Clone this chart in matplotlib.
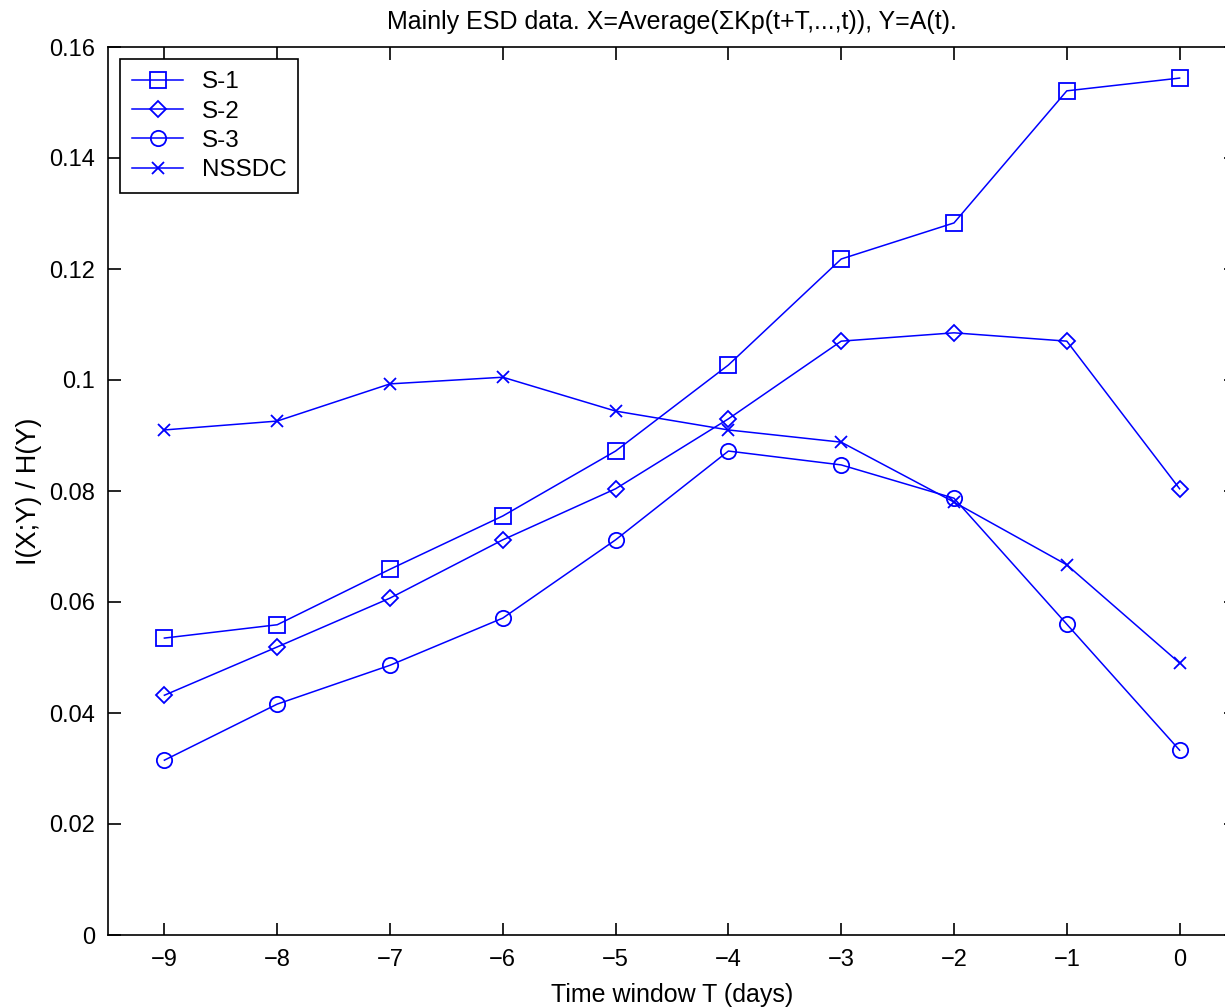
import numpy as np
import matplotlib
matplotlib.use('Agg')
import matplotlib.pyplot as plt

plt.rcParams['font.family'] = ['Liberation Sans', 'DejaVu Sans']

# data
T = [-9, -8, -7, -6, -5, -4, -3, -2, -1, 0]
s1 = [0.0535, 0.0559, 0.0659, 0.0755, 0.0872, 0.1027, 0.1218, 0.1283, 0.1521, 0.1544]
s2 = [0.0432, 0.0519, 0.0607, 0.0712, 0.0804, 0.0930, 0.1070, 0.1085, 0.1070, 0.0804]
s3 = [0.0315, 0.0416, 0.0486, 0.0571, 0.0712, 0.0872, 0.0847, 0.0787, 0.0560, 0.0333]
nssdc = [0.0910, 0.0926, 0.0993, 0.1005, 0.0944, 0.0910, 0.0888, 0.0780, 0.0667, 0.0490]
yticks = [0, 0.02, 0.04, 0.06, 0.08, 0.1, 0.12, 0.14, 0.16]
ylabels = ['0', '0.02', '0.04', '0.06', '0.08', '0.1', '0.12', '0.14', '0.16']

fig = plt.figure(figsize=(12.25, 10.08), dpi=100)
# right edge of the axes falls outside the picture, as in the reference
ax = fig.add_axes([108/1225, 1 - 935/1008, (1236 - 108)/1225, (935 - 47)/1008])

blue = (0, 0, 1)
kw = dict(color=blue, lw=1.1, mfc='none', mec=blue, mew=1.3)
ax.plot(T, s1, marker='s', ms=11, label='S-1', **kw)
ax.plot(T, s2, marker='D', ms=8, label='S-2', **kw)
ax.plot(T, s3, marker='o', ms=11, label='S-3', **kw)
ax.plot(T, nssdc, marker='x', ms=9, label='NSSDC', **kw)

ax.set_xlim(-9.5, 0.5)
ax.set_ylim(0, 0.16)
ax.set_xticks(T)
ax.set_xticklabels([str(t).replace('-', '\u2212') for t in T])
ax.set_yticks(yticks)
ax.set_yticklabels(ylabels)
ax.tick_params(direction='in', top=True, right=True, length=9, width=1.2,
               labelsize=17)
ax.tick_params(axis='y', pad=9.5)
ax.tick_params(axis='x', pad=10)
for sp in ax.spines.values():
    sp.set_linewidth(1.2)

ax.set_title('Mainly ESD data. X=Average(\u03a3Kp(t+T,...,t)), Y=A(t).',
             fontsize=18, pad=13)
ax.set_xlabel('Time window T (days)', fontsize=18, labelpad=9)
ax.set_ylabel('I(X;Y) / H(Y)', fontsize=19.5, labelpad=5)

leg = ax.legend(loc='upper left', fontsize=17.5, fancybox=False, framealpha=1,
                edgecolor='black', borderaxespad=0.5, borderpad=0.5,
                handlelength=2.1, handletextpad=0.75, labelspacing=0.3)
leg.get_frame().set_linewidth(1.2)

fig.savefig('out.png', dpi=100)
